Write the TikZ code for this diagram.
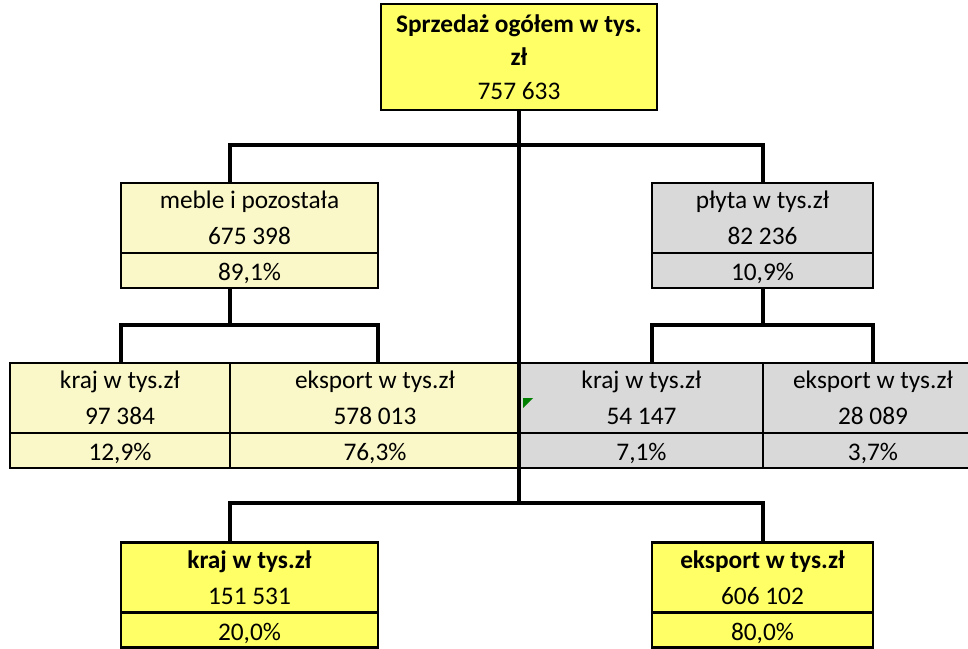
\documentclass[tikz,border=0pt]{standalone}
\usepackage{fontspec}
\setmainfont{Carlito}
\usetikzlibrary{positioning}

\definecolor{topyellow}{RGB}{255,255,102}
\definecolor{paleyellow}{RGB}{250,248,200}
\definecolor{cellgrey}{RGB}{217,217,217}
\definecolor{flaggreen}{RGB}{0,128,0}

\begin{document}
\begin{tikzpicture}[x=0.75pt, y=-0.75pt,
    box/.style={draw=black, line width=1.9pt, inner sep=0pt, outer sep=0pt, align=center, font=\fontsize{19}{27}\selectfont},
    pct/.style={box, minimum height=26.25pt, text height=15pt, text depth=0pt},
    conn/.style={draw=black, line width=3pt, line join=miter},]

        \useasboundingbox (0,0) rectangle (968,649);

        % Define the joints of the connectors
        \coordinate (legA) at (230,145);
        \coordinate (legB) at (762.5,145);
        \coordinate (forkM) at (230,325);
        \coordinate (forkP) at (762.5,325);
        \coordinate (forkB) at (519,503);

        % Top box
        \node[box, fill=topyellow, minimum width=207pt, minimum height=79.5pt, font=\fontsize{19}{25}\selectfont] (total) at (519,57) {\textbf{Sprzedaż ogółem w tys.}\\\textbf{zł}\\757 633};

        % Second level
        \node[box, fill=paleyellow, minimum width=192.75pt, minimum height=52.5pt] (meble) at (249.5,218) {meble i pozostała\\675 398};
        \node[pct, fill=paleyellow, minimum width=192.75pt, below=0pt of meble] (mebleP) {89,1\%};
        \node[box, fill=cellgrey, minimum width=165.75pt, minimum height=52.5pt] (plyta) at (762.5,218) {płyta w tys.zł\\82 236};
        \node[pct, fill=cellgrey, minimum width=165.75pt, below=0pt of plyta] (plytaP) {10,9\%};

        % Third level
        \node[box, fill=paleyellow, minimum width=165pt, minimum height=52.5pt] (krajM) at (120,398) {kraj w tys.zł\\97 384};
        \node[box, fill=paleyellow, minimum width=217.5pt, minimum height=52.5pt, right=0pt of krajM] (eksM) {eksport w tys.zł\\578 013};
        \node[box, fill=cellgrey, minimum width=182.25pt, minimum height=52.5pt, right=0pt of eksM] (krajP) {kraj w tys.zł\\54 147};
        \node[box, fill=cellgrey, minimum width=165pt, minimum height=52.5pt, right=0pt of krajP] (eksP) {eksport w tys.zł\\28 089};
        \node[pct, fill=paleyellow, minimum width=165pt, below=0pt of krajM] (krajMP) {12,9\%};
        \node[pct, fill=paleyellow, minimum width=217.5pt, below=0pt of eksM] (eksMP) {76,3\%};
        \node[pct, fill=cellgrey, minimum width=182.25pt, below=0pt of krajP] (krajPP) {7,1\%};
        \node[pct, fill=cellgrey, minimum width=165pt, below=0pt of eksP] (eksPP) {3,7\%};

        % Bottom level
        \node[box, fill=topyellow, minimum width=192.75pt, minimum height=52.5pt] (krajT) at (249.5,577.5) {\textbf{kraj w tys.zł}\\151 531};
        \node[pct, fill=topyellow, minimum width=192.75pt, below=0pt of krajT] (krajTP) {20,0\%};
        \node[box, fill=topyellow, minimum width=165.75pt, minimum height=52.5pt] (eksT) at (762.5,577.5) {\textbf{eksport w tys.zł}\\606 102};
        \node[pct, fill=topyellow, minimum width=165.75pt, below=0pt of eksT] (eksTP) {80,0\%};

        % Connectors
        \draw[conn] (total.south) -- (forkB);
        \draw[conn] (meble.north -| legA) -- (legA) -- (legB) -- (plyta.north);
        \draw[conn] (mebleP.south -| forkM) -- (forkM);
        \draw[conn] (krajM.north -| mebleP.west) |- (forkM) -| (eksM.north -| mebleP.east);
        \draw[conn] (plytaP.south) -- (forkP);
        \draw[conn] (krajP.north -| plytaP.west) |- (forkP) -| (eksP.north -| plytaP.east);
        \draw[conn] (krajT.north -| legA) |- (forkB) -| (eksT.north);

        % Green marker in the cell
        \fill[flaggreen] (523,398) -- (533,398) -- (523,408) -- cycle;

\end{tikzpicture}
\end{document}
